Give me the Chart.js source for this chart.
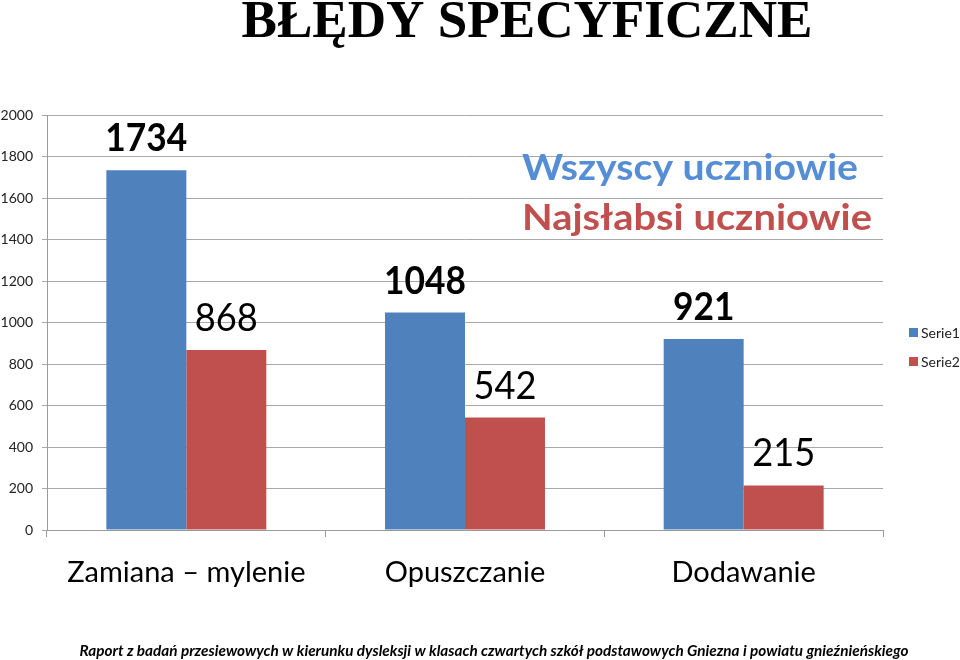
<!DOCTYPE html>
<html>
<head>
<meta charset="utf-8">
<script src="https://cdn.jsdelivr.net/npm/chart.js@4"></script>
<style>
html,body{margin:0;padding:0;background:#fff;}
#wrap{width:960px;height:660px;position:relative;}
</style>
</head>
<body>
<div id="wrap"><canvas id="c" width="960" height="660"></canvas></div>
<script>
const categories = ['Zamiana – mylenie', 'Opuszczanie', 'Dodawanie'];
const seriesNames = ['Serie1', 'Serie2'];
const serie1 = [1734, 1048, 921];
const serie2 = [868, 542, 215];
const yTicks = [0, 200, 400, 600, 800, 1000, 1200, 1400, 1600, 1800, 2000];
const titleText = 'BŁĘDY SPECYFICZNE';
const noteBlue = 'Wszyscy uczniowie';
const noteRed = 'Najsłabsi uczniowie';
const footerText = 'Raport z badań przesiewowych w kierunku dysleksji w klasach czwartych szkół podstawowych Gniezna i powiatu gnieźnieńskiego';

const BLUE = '#4F81BD';
const RED = '#C0504D';
const SANS = 'Lato, "Open Sans", sans-serif';

function fitText(ctx, text, cx, baseline, font, width, color) {
  ctx.save();
  ctx.font = font;
  ctx.fillStyle = color;
  ctx.textAlign = 'center';
  ctx.textBaseline = 'alphabetic';
  const w = ctx.measureText(text).width;
  const s = width / w;
  ctx.translate(cx, baseline);
  ctx.scale(s, 1);
  ctx.fillText(text, 0, 0);
  ctx.restore();
}

const decor = {
  id: 'decor',
  afterDraw(chart) {
    const ctx = chart.ctx;
    fitText(ctx, titleText, 527, 37, 'bold 52px "Liberation Serif", "DejaVu Serif", serif', 571, '#000');
    fitText(ctx, noteBlue, 690, 180, 'bold 37px ' + SANS, 336, '#558ED5');
    fitText(ctx, noteRed, 697, 230, 'bold 37px ' + SANS, 350, RED);
    fitText(ctx, footerText, 494, 656, 'italic bold 15px ' + SANS, 829, '#000');
    chart.data.datasets.forEach((ds, di) => {
      const meta = chart.getDatasetMeta(di);
      meta.data.forEach((bar, i) => {
        const txt = String(ds.data[i]);
        ctx.save();
        ctx.font = (di === 0 ? 'bold ' : '') + '38px ' + SANS;
        ctx.fillStyle = '#000';
        ctx.textAlign = 'center';
        ctx.textBaseline = 'alphabetic';
        const targetW = txt.length * (di === 0 ? 20.5 : 21);
        const w = ctx.measureText(txt).width;
        ctx.translate(bar.x, bar.y - 19);
        ctx.scale(targetW / w, 1);
        ctx.fillText(txt, 0, 0);
        ctx.restore();
      });
    });
    const legY = [333, 362];
    chart.data.datasets.forEach((ds, di) => {
      ctx.save();
      ctx.fillStyle = ds.backgroundColor;
      ctx.fillRect(909, legY[di] - 5, 9, 9);
      ctx.font = '14px ' + SANS;
      ctx.fillStyle = '#222';
      ctx.textAlign = 'left';
      ctx.textBaseline = 'middle';
      ctx.fillText(ds.label, 921, legY[di]);
      ctx.restore();
    });
  }
};

new Chart(document.getElementById('c'), {
  type: 'bar',
  data: {
    labels: categories,
    datasets: [
      { label: seriesNames[0], data: serie1, backgroundColor: BLUE, borderWidth: 0 },
      { label: seriesNames[1], data: serie2, backgroundColor: RED, borderWidth: 0 }
    ]
  },
  options: {
    responsive: false,
    animation: false,
    devicePixelRatio: 1,
    layout: { padding: { top: 115, right: 77, bottom: 0, left: 0 } },
    categoryPercentage: 0.574,
    barPercentage: 1,
    plugins: { legend: { display: false }, tooltip: { enabled: false }, title: { display: false } },
    scales: {
      x: {
        grid: { display: true, drawOnChartArea: false, drawTicks: true, tickLength: 7, color: '#9a9a9a', offset: true },
        border: { display: true, color: '#9a9a9a', width: 1 },
        ticks: { font: { family: SANS, size: 29, weight: 'normal' }, color: '#000', padding: 18, maxRotation: 0 },
        afterFit(scale) { scale.height = 130; }
      },
      y: {
        min: 0, max: 2000,
        afterBuildTicks(scale) { scale.ticks = yTicks.map(v => ({ value: v })); },
        grid: { color: '#a8a8a8', tickLength: 5, drawTicks: true },
        border: { display: true, color: '#9a9a9a' },
        ticks: { font: { family: SANS, size: 14 }, color: '#222', padding: 9, callback: (v) => String(v) },
        afterFit(scale) { scale.width = 47; }
      }
    }
  },
  plugins: [decor]
});
</script>
</body>
</html>
